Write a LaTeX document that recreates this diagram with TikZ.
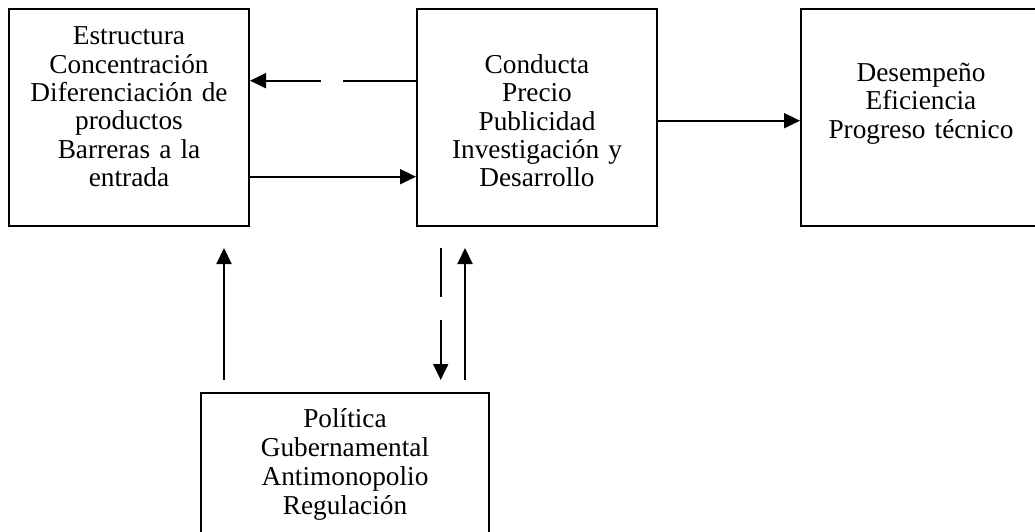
\documentclass[tikz,border=0pt]{standalone}
\usepackage{fontspec}
\setmainfont{Liberation Serif}
\usetikzlibrary{arrows.meta}
\begin{document}
\begin{tikzpicture}[x=1pt,y=-1pt,
  box/.style={draw=black, line width=2pt, inner sep=0pt},
  txt/.style={inner sep=0pt, anchor=base, text width=260pt, align=center,
    font=\fontsize{27.3}{28.3}\selectfont},
  conn/.style={line width=2pt, -{Triangle[length=16pt,width=15pt]}}]
\useasboundingbox (0,0) rectangle (1035,532);
% boxes
\node[box, minimum width=240pt, minimum height=217pt] (b1) at (129,117.5) {};
\node[box, minimum width=240pt, minimum height=217pt] (b2) at (537,117.5) {};
\node[box, minimum width=240pt, minimum height=217pt] (b3) at (921,117.5) {};
\node[box, minimum width=288pt, minimum height=160pt] (b4) at (345,473) {};
% texts
\node[txt] (t1) at (129,45) {Estructura\\Concentración\\Diferenciación de\\productos\\Barreras a la\\entrada};
\node[txt] (t2) at (537,73.5) {Conducta\\Precio\\Publicidad\\Investigación y\\Desarrollo};
\node[txt] (t3) at (921,81.5) {Desempeño\\Eficiencia\\Progreso técnico};
\node[txt, font=\fontsize{27.3}{29.3}\selectfont] (t4) at (345,427) {Política\\Gubernamental\\Antimonopolio\\Regulación};
% horizontal connectors
\draw[conn, dash pattern=on 73pt off 22pt on 300pt] (b2.west |- 0,80.7) -- (b1.east |- 0,80.7);
\draw[conn] (b1.east |- 0,176.7) -- (b2.west |- 0,176.7);
\draw[conn] (b2.east |- 0,120.7) -- (b3.west |- 0,120.7);
% vertical connectors (free ends)
\coordinate (pL1) at (224,380);
\coordinate (pL2) at (224,248);
\coordinate (pD1) at (440.7,248);
\coordinate (pD2) at (440.7,380);
\coordinate (pU1) at (465,380);
\coordinate (pU2) at (465,248);
\draw[conn] (pL1) -- (pL2);
\draw[conn, dash pattern=on 49pt off 23pt on 300pt] (pD1) -- (pD2);
\draw[conn] (pU1) -- (pU2);
\end{tikzpicture}
\end{document}
